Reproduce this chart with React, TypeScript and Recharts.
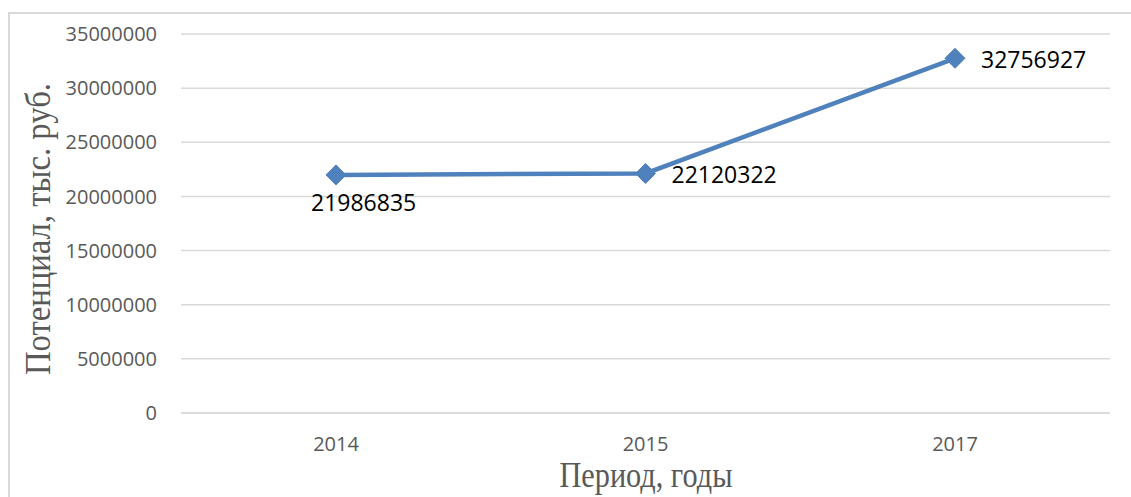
import { CartesianGrid, Label, LabelList, Line, LineChart, XAxis, YAxis } from "recharts";

const years = ["2014", "2015", "2017"];
const potential = [21986835, 22120322, 32756927];
const yTicks = [0, 5000000, 10000000, 15000000, 20000000, 25000000, 30000000, 35000000];

const data = years.map((year, i) => ({ year, value: potential[i] }));

const BLUE = "#4F81BD";
const GREY = "#595959";

function Diamond(props: any) {
  const { cx, cy } = props;
  if (cx == null || cy == null) return null;
  const r = 10;
  return (
    <path
      d={`M${cx},${cy - r} L${cx + r},${cy} L${cx},${cy + r} L${cx - r},${cy} Z`}
      fill={BLUE}
      stroke={BLUE}
    />
  );
}

// first label sits below its point, the others to the right
function ValueLabel(props: any) {
  const { x, y, value, index } = props;
  const below = index === 0;
  return (
    <text
      x={below ? x - 25 : x + 26}
      y={below ? y + 36 : y + 10}
      fill="#000"
      fontSize={23}
      fontFamily="'Open Sans', sans-serif"
      textAnchor="start"
    >
      {value}
    </text>
  );
}

export default function App() {
  return (
    <div style={{ position: "absolute", left: 0, top: 0, width: 1131, height: 497, overflow: "hidden", background: "#fff" }}>
      <div
        style={{
          position: "absolute",
          left: 8,
          top: 12,
          width: 1300,
          height: 700,
          borderLeft: "2px solid #D9D9D9",
          borderTop: "2px solid #D9D9D9",
        }}
      />
      <LineChart
        width={1131}
        height={497}
        data={data}
        margin={{ top: 34, right: 21, bottom: 0, left: 0 }}
        style={{ position: "absolute", left: 0, top: 0 }}
      >
        <CartesianGrid vertical={false} stroke="#D9D9D9" strokeWidth={1.5} />
        <XAxis
          dataKey="year"
          height={84}
          padding={{ left: 155, right: 155 }}
          axisLine={{ stroke: "#D9D9D9", strokeWidth: 1.5 }}
          tickLine={false}
          tickSize={0}
          tickMargin={24}
          tick={{ fill: GREY, fontSize: 20, fontFamily: "'Open Sans', sans-serif" }}
        >
          <Label
            content={({ viewBox }: any) => (
              <text
                x={646}
                y={viewBox.y + 74}
                textAnchor="middle"
                fill={GREY}
                fontSize={35}
                textLength={173}
                lengthAdjust="spacingAndGlyphs"
                fontFamily="'Liberation Serif', serif"
              >
                Период, годы
              </text>
            )}
          />
        </XAxis>
        <YAxis
          width={181}
          domain={[0, 35000000]}
          ticks={yTicks}
          axisLine={false}
          tickLine={false}
          tickSize={0}
          tickMargin={24}
          tick={{ fill: GREY, fontSize: 20, fontFamily: "'Open Sans', sans-serif" }}
        >
          <Label
            content={() => (
              <text
                x={50}
                y={229}
                transform="rotate(-90, 50, 229)"
                textAnchor="middle"
                fill={GREY}
                fontSize={35}
                textLength={292}
                lengthAdjust="spacingAndGlyphs"
                fontFamily="'Liberation Serif', serif"
              >
                Потенциал, тыс. руб.
              </text>
            )}
          />
        </YAxis>
        <Line
          type="linear"
          dataKey="value"
          stroke={BLUE}
          strokeWidth={4.5}
          dot={<Diamond />}
          activeDot={false}
          isAnimationActive={false}
        >
          <LabelList dataKey="value" content={<ValueLabel />} />
        </Line>
      </LineChart>
    </div>
  );
}
